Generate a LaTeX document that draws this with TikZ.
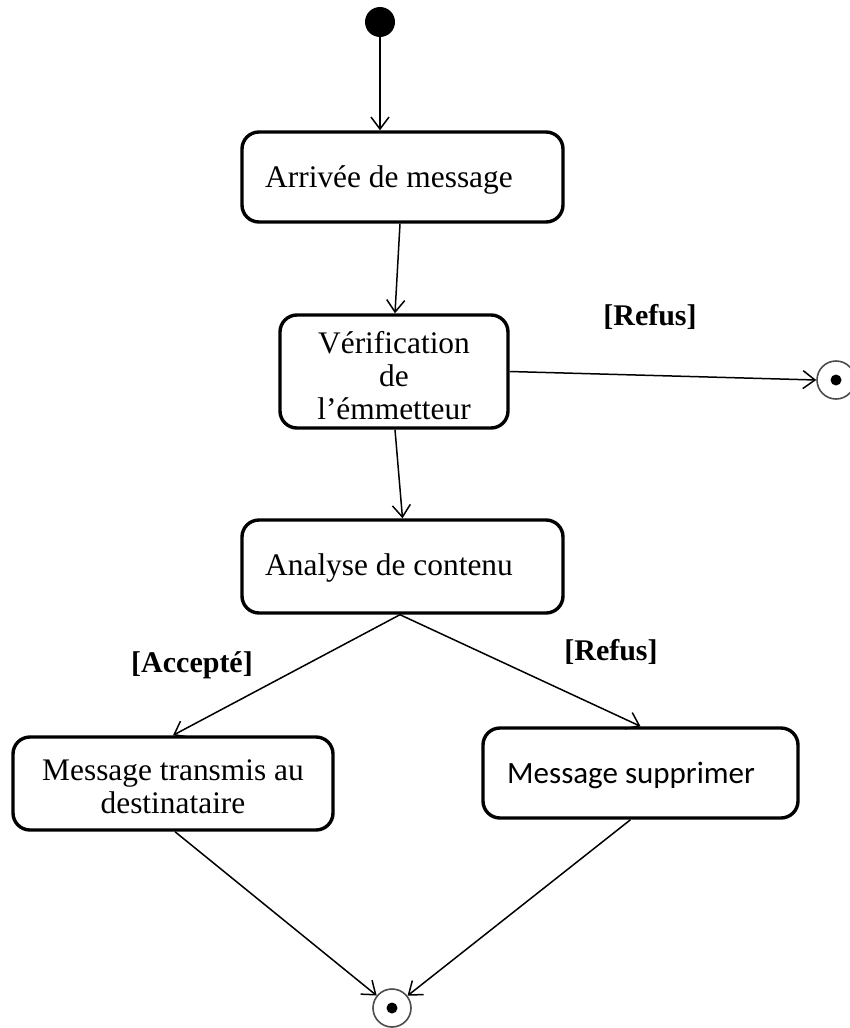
\documentclass[tikz,border=0pt]{standalone}
\usepackage{fontspec}
\setmainfont{Liberation Serif}
\newfontfamily\sansf{Carlito}
\usetikzlibrary{arrows.meta}
\tikzset{
  state/.style={draw, line width=3.4pt, rounded corners=17pt, inner sep=0pt},
  txt/.style={inner sep=0pt, align=center, font=\fontsize{31.4}{33}\selectfont},
  arr/.style={line width=1.5pt, -{Straight Barb[length=12pt,width=18pt,line width=1.5pt]}},
  guard/.style={font=\fontsize{30}{30}\selectfont\bfseries},
  finalring/.style={circle, draw=black!70, line width=1.6pt, minimum size=38pt, inner sep=0pt},
  finaldot/.style={circle, fill=black, minimum size=11pt, inner sep=0pt},
}
\begin{document}
\begin{tikzpicture}[x=1pt,y=-1pt]
\useasboundingbox (0,0) rectangle (850,1028);

\node[circle, fill=black, minimum size=30pt, inner sep=0pt] (init) at (380,22) {};

\node[state, minimum width=321pt, minimum height=90pt] (b1) at (402.5,177) {};
\node[state, minimum width=228pt, minimum height=113pt] (b2) at (394,371.5) {};
\node[state, minimum width=321pt, minimum height=93pt] (b3) at (402.5,566.5) {};
\node[state, minimum width=320pt, minimum height=93pt] (b4) at (173,783.5) {};
\node[state, minimum width=315pt, minimum height=90pt] (b5) at (640.5,773) {};

\node[txt, anchor=west] (t1) at (265,180) {Arrivée de message};
\node[txt] (t2) at (394,376) {Vérification\\de\\l’émmetteur};
\node[txt, anchor=west] (t3) at (265,568) {Analyse de contenu};
\node[txt] (t4) at (173,787) {Message transmis au\\destinataire};
\node[txt, anchor=west, font=\fontsize{31}{33}\selectfont\sansf] (t5) at (507,775) {Message supprimer};

\node[finalring] (f1) at (836,380) {};
\node[finaldot] (f1d) at (f1.center) {};
\node[finalring] (f2) at (392,1008) {};
\node[finaldot] (f2d) at (f2.center) {};

\node[guard] (g1) at (650,317) {[Refus]};
\node[guard] (g2) at (192,665) {[Accepté]};
\node[guard] (g3) at (611,652) {[Refus]};

\draw[arr] (init.south) -- (init.south |- b1.north);
\draw[arr] ([xshift=-2.5pt]b1.south) -- ([xshift=1pt]b2.north);
\draw[arr] (b2.east) -- (f1.west);
\draw[arr] ([xshift=1pt]b2.south) -- (b3.north);
\draw[arr] ([xshift=-2.5pt]b3.south) -- (b4.north);
\draw[arr] ([xshift=-2.5pt]b3.south) -- (b5.north);
\draw[arr] ([xshift=2pt]b4.south) -- (f2);
\draw[arr] ([xshift=-10pt]b5.south) -- (f2);
\end{tikzpicture}
\end{document}
